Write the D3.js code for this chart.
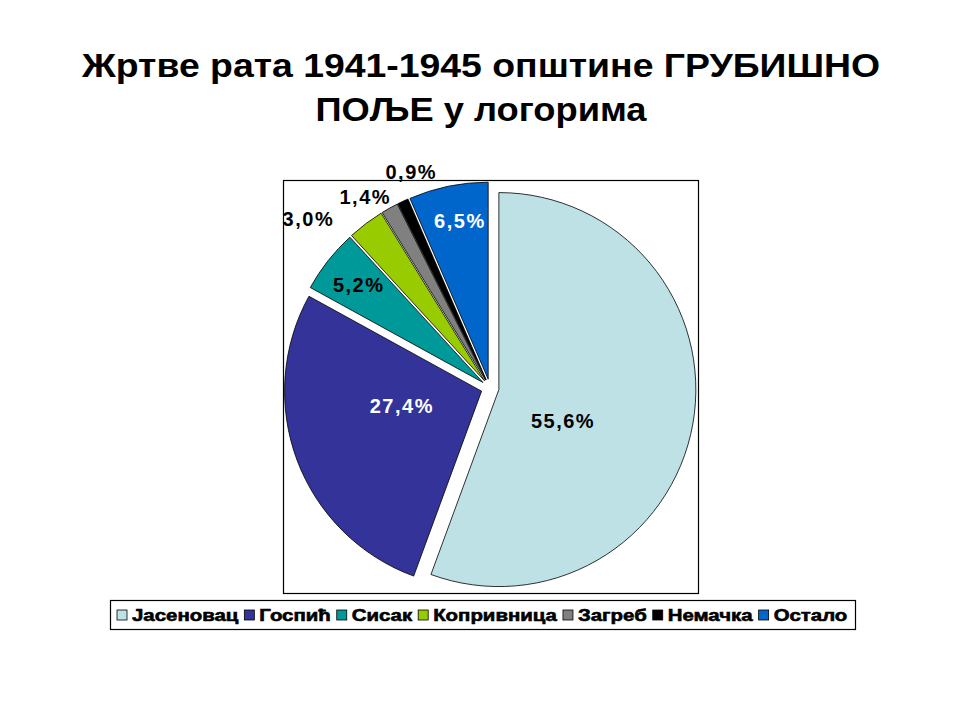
<!DOCTYPE html>
<html>
<head>
<meta charset="utf-8">
<script src="https://cdn.jsdelivr.net/npm/d3@7"></script>
<style>
  body { margin: 0; background: #fff; }
  svg { display: block; font-family: "Liberation Sans", Arial, sans-serif; }
</style>
</head>
<body>
<svg width="960" height="720"></svg>
<script>
var titleLines = ["Жртве рата 1941-1945 општине ГРУБИШНО", "ПОЉЕ у логорима"];
var categories = ["Јасеновац", "Госпић", "Сисак", "Копривница", "Загреб", "Немачка", "Остало"];
var values = [55.6, 27.4, 5.2, 3.0, 1.4, 0.9, 6.5];
var colors = ["#BDE1E5", "#333399", "#009999", "#99CC00", "#808080", "#000000", "#0066CC"];
var labelColors = ["#000", "#fff", "#000", "#000", "#000", "#000", "#fff"];

// label placement: angle nudge (deg) from slice middle, and distance from centre
var labelShift = [14, 9, 0, -10, -4, 5, 1.5];
var labelRadius = [80, 90, 167, 248, 228, 230, 170];

var svg = d3.select("svg"),
    cx = 490,
    cy = 388,
    radius = 197,
    explode = 9;

// title is drawn a little wider than the font's natural width, like the original
var titleWidths = [798, 331];
svg.selectAll("text.title")
  .data(titleLines)
  .enter().append("text")
    .attr("class", "title")
    .attr("x", 481)
    .attr("y", function(d, i) { return 77 + i * 43.5; })
    .attr("text-anchor", "middle")
    .attr("textLength", function(d, i) { return titleWidths[i]; })
    .attr("lengthAdjust", "spacingAndGlyphs")
    .style("font-size", "34px")
    .style("font-weight", "bold")
    .text(function(d) { return d; });

// plot area frame
svg.append("rect")
  .attr("x", 283.5)
  .attr("y", 180.5)
  .attr("width", 415)
  .attr("height", 413)
  .attr("fill", "#fff")
  .attr("stroke", "#000")
  .attr("stroke-width", 1.2);

var pie = d3.pie().sort(null).value(function(d) { return d; });
var arcs = pie(values);

var arc = d3.arc().innerRadius(0).outerRadius(radius);

function mid(d) { return (d.startAngle + d.endAngle) / 2; }

var g = svg.append("g").attr("transform", "translate(" + cx + "," + cy + ")");

g.selectAll("path")
  .data(arcs)
  .enter().append("path")
    .attr("d", arc)
    .attr("transform", function(d) {
      var a = mid(d);
      return "translate(" + (Math.sin(a) * explode) + "," + (-Math.cos(a) * explode) + ")";
    })
    .attr("fill", function(d, i) { return colors[i]; })
    .attr("stroke", "#000")
    .attr("stroke-width", 0.8)
    .attr("stroke-linejoin", "round");

g.selectAll("text.lbl")
  .data(arcs)
  .enter().append("text")
    .attr("class", "lbl")
    .attr("x", function(d, i) { return Math.sin(mid(d) + labelShift[i] * Math.PI / 180) * labelRadius[i]; })
    .attr("y", function(d, i) { return -Math.cos(mid(d) + labelShift[i] * Math.PI / 180) * labelRadius[i]; })
    .attr("dy", "0.36em")
    .attr("text-anchor", "middle")
    .style("font-size", "20px")
    .style("font-weight", "bold")
    .style("letter-spacing", "1.5px")
    .attr("fill", function(d, i) { return labelColors[i]; })
    .text(function(d, i) { return d3.format(".1f")(values[i]).replace(".", ",") + "%"; });

// legend
var legend = svg.append("g");
legend.append("rect")
  .attr("x", 110.5)
  .attr("y", 600.5)
  .attr("width", 745)
  .attr("height", 29)
  .attr("fill", "#fff")
  .attr("stroke", "#000")
  .attr("stroke-width", 1.2);

var item = legend.selectAll("g.item")
  .data(categories)
  .enter().append("g")
    .attr("class", "item");

item.append("rect")
  .attr("width", 10)
  .attr("height", 10)
  .attr("y", 610)
  .attr("fill", function(d, i) { return colors[i]; })
  .attr("stroke", "#000")
  .attr("stroke-width", 0.8);

item.append("text")
  .attr("y", 621)
  .style("font-size", "17px")
  .style("font-weight", "bold")
  .style("stroke", "#000")
  .style("stroke-width", 0.6)
  .text(function(d) { return d; });

// lay out legend items one after another, text widened to the original's heavy face
var xPos = 117, stretch = 1.2;
item.each(function() {
  var el = d3.select(this);
  el.select("rect").attr("x", xPos);
  var t = el.select("text").attr("x", xPos + 15);
  var w = t.node().getComputedTextLength() * stretch;
  t.attr("textLength", w).attr("lengthAdjust", "spacingAndGlyphs");
  xPos += 15 + w + 6;
});
</script>
</body>
</html>
